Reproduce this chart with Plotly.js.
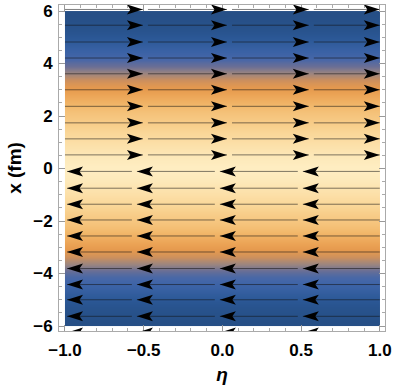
<!DOCTYPE html>
<html>
<head>
<meta charset="utf-8">
<script src="https://cdn.plot.ly/plotly-3.0.1.min.js"></script>
<style>
  body { margin: 0; background: #fff; }
  #plot { width: 395px; height: 392px; }
</style>
</head>
<body>
<div id="plot"></div>
<script>
// background density, one value per band of x (fm), bands edged by yEdges
var yEdges = [-6, -5.75, -5.5, -5.25, -5, -4.75, -4.5, -4.25, -4, -3.75, -3.5, -3.25, -3,
              -2.75, -2.5, -2.25, -2, -1.75, -1.5, -1.25, -1, -0.75, -0.5, -0.25, 0,
              0.25, 0.5, 0.75, 1, 1.25, 1.5, 1.75, 2, 2.25, 2.5, 2.75, 3, 3.25, 3.5,
              3.75, 4, 4.25, 4.5, 4.75, 5, 5.25, 5.5, 5.75, 6];
var density = [0.0, 0.01, 0.02, 0.04, 0.07, 0.10, 0.13, 0.17, 0.24, 0.33, 0.43, 0.52,
               0.58, 0.63, 0.68, 0.73, 0.77, 0.81, 0.85, 0.88, 0.91, 0.94, 0.97, 0.99,
               0.99, 0.97, 0.94, 0.91, 0.88, 0.85, 0.81, 0.77, 0.73, 0.68, 0.63, 0.58,
               0.52, 0.43, 0.33, 0.24, 0.17, 0.13, 0.10, 0.07, 0.04, 0.02, 0.01, 0.0];
var etaEdges = [-1, 0, 1];

// streamlines: rows flowing right (x > 0) and left (x < 0), arrow tip positions in eta
var rightRows = [6.06, 5.46, 4.82, 4.21, 3.61, 3.0, 2.37, 1.74, 1.13, 0.52];
var rightTips = [-0.505, 0.029, 0.549, 1.0];
var leftRows = [-0.11, -0.75, -1.36, -1.96, -2.57, -3.18, -3.81, -4.42, -5.0, -5.63, -6.25];
var leftTips = [0.511, -0.016, -0.543, -0.987];

var xTicks = [-1, -0.5, 0, 0.5, 1];
var xTickText = ['\u22121.0', '\u22120.5', '0.0', '0.5', '1.0'];
var yTicks = [-6, -4, -2, 0, 2, 4, 6];
var yTickText = ['\u22126', '\u22124', '\u22122', '0', '2', '4', '6'];

var gap = 0.032;

var z = density.map(function(d) { return [d, d]; });

var heat = {
    type: 'heatmap',
    x: etaEdges,
    y: yEdges,
    z: z,
    zmin: 0,
    zmax: 1,
    zsmooth: 'best',
    showscale: false,
    hoverinfo: 'skip',
    colorscale: [
        [0, '#264f86'], [0.055, '#2b5896'], [0.115, '#3a62a5'], [0.16, '#4767a8'],
        [0.235, '#6a6f96'], [0.32, '#9a8581'], [0.42, '#c98f60'], [0.53, '#e69a4e'],
        [0.59, '#eca456'], [0.675, '#f2b96c'], [0.75, '#f6c67f'], [0.83, '#f9d493'],
        [0.895, '#fcdfa7'], [0.955, '#fde8b8'], [1, '#feeec3']
    ]
};

var lx = [], ly = [];
rightRows.forEach(function(y) {
    var start = -1;
    rightTips.forEach(function(t) {
        if (start < t) { lx.push(start, t, null); ly.push(y, y, null); }
        start = t + gap;
    });
    if (start < 1) { lx.push(start, 1, null); ly.push(y, y, null); }
});
leftRows.forEach(function(y) {
    var start = 1;
    leftTips.forEach(function(t) {
        if (start > t) { lx.push(start, t, null); ly.push(y, y, null); }
        start = t - gap;
    });
    if (start > -1) { lx.push(start, -1, null); ly.push(y, y, null); }
});

var lines = {
    type: 'scatter',
    mode: 'lines',
    x: lx,
    y: ly,
    line: { color: 'rgba(20,20,20,0.55)', width: 1 },
    hoverinfo: 'skip',
    showlegend: false
};

var shapes = [];
function arrow(xa, ya, dir) {
    var p = dir > 0 ? 'M0,0L-16,5L-12.5,0L-16,-5Z' : 'M0,0L16,5L12.5,0L16,-5Z';
    shapes.push({
        type: 'path', xref: 'x', yref: 'y',
        xsizemode: 'pixel', ysizemode: 'pixel',
        xanchor: xa, yanchor: ya, path: p,
        fillcolor: '#000', line: { width: 0 }
    });
}
rightRows.forEach(function(y) { rightTips.forEach(function(t) { arrow(t, y, 1); }); });
leftRows.forEach(function(y) { leftTips.forEach(function(t) { arrow(t, y, -1); }); });

var fam = 'Liberation Sans, Arial, sans-serif';

var layout = {
    width: 395,
    height: 392,
    margin: { l: 59, r: 10, t: 5, b: 61 },
    paper_bgcolor: '#fff',
    plot_bgcolor: '#fff',
    showlegend: false,
    shapes: shapes,
    xaxis: {
        range: [-1.038, 1.033],
        tickvals: xTicks,
        ticktext: xTickText,
        ticks: 'inside',
        ticklen: 6,
        tickcolor: '#999',
        showline: true,
        linecolor: '#aaa',
        linewidth: 1,
        mirror: 'allticks',
        showgrid: false,
        zeroline: false,
        minor: { dtick: 0.1, ticks: 'inside', ticklen: 3, tickcolor: '#aaa', showgrid: false },
        tickfont: { family: fam, size: 17, color: '#000', weight: 'bold' },
        ticklabelstandoff: 4,
        title: { text: '<b><i>\u03b7</i></b>', font: { family: fam, size: 19, color: '#000' }, standoff: 8 }
    },
    yaxis: {
        range: [-6.19, 6.23],
        tickvals: yTicks,
        ticktext: yTickText,
        ticks: 'inside',
        ticklen: 6,
        tickcolor: '#999',
        showline: true,
        linecolor: '#aaa',
        linewidth: 1,
        mirror: 'allticks',
        showgrid: false,
        zeroline: false,
        minor: { dtick: 0.5, ticks: 'inside', ticklen: 3, tickcolor: '#aaa', showgrid: false },
        tickfont: { family: fam, size: 17, color: '#000', weight: 'bold' },
        ticklabelstandoff: 2,
        title: { text: '<b>x (fm)</b>', font: { family: fam, size: 19, color: '#000' }, standoff: 6 }
    }
};

Plotly.newPlot('plot', [heat, lines], layout, { displayModeBar: false, staticPlot: true });
</script>
</body>
</html>
